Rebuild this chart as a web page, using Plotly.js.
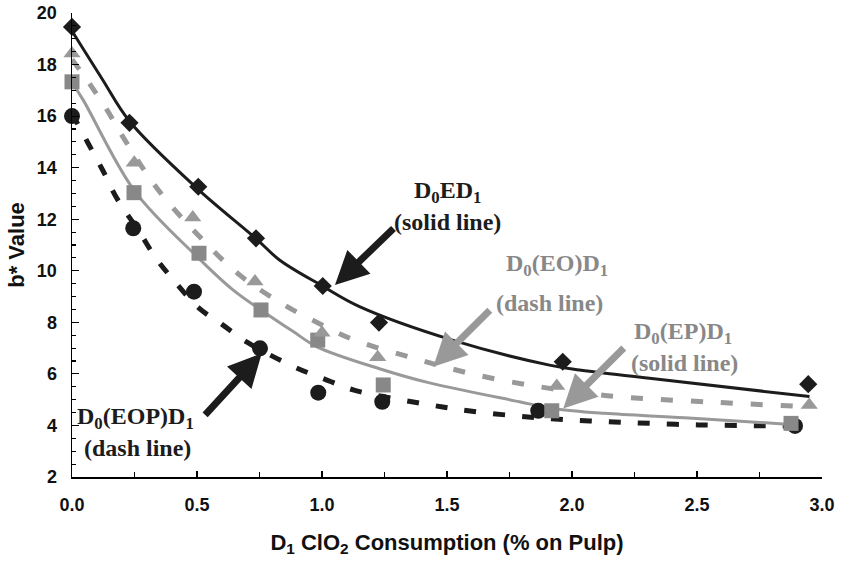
<!DOCTYPE html>
<html>
<head>
<meta charset="utf-8">
<script src="https://cdn.plot.ly/plotly-3.0.1.min.js"></script>
<style>html,body{margin:0;padding:0;background:#fff;}#chart{width:842px;height:564px;}</style>
</head>
<body>
<div id="chart"></div>
<script>
// Measured points
const edX   = [0, 0.23, 0.505, 0.736, 1.003, 1.228, 1.963, 2.945];
const edY   = [19.46, 15.74, 13.26, 11.26, 9.41, 7.99, 6.47, 5.6];
const eoX   = [0, 0.249, 0.483, 0.732, 1.0, 1.223, 1.939, 2.949];
const eoY   = [18.43, 14.19, 12.07, 9.58, 7.6, 6.65, 5.53, 4.79];
const epX   = [0, 0.248, 0.508, 0.756, 0.983, 1.245, 1.919, 2.876];
const epY   = [17.33, 13.03, 10.68, 8.48, 7.31, 5.57, 4.57, 4.08];
const eopX  = [0, 0.245, 0.488, 0.752, 0.985, 1.241, 1.865, 2.892];
const eopY  = [16.0, 11.65, 9.19, 6.99, 5.27, 4.92, 4.57, 3.98];

// Fitted curves
const edFitX  = [0, 0.12, 0.23, 0.5, 0.736, 0.83, 1.0, 1.15, 1.525, 1.91, 2.03, 2.31, 2.95];
const edFitY  = [19.3, 17.45, 15.8, 13.2, 11.25, 10.42, 9.42, 8.61, 7.3, 6.34, 6.15, 5.83, 5.12];
const eoFitX  = [0, 0.065, 0.14, 0.2, 0.34, 0.5, 0.67, 0.85, 1.0, 1.13, 1.37, 1.6, 1.85, 2.08, 2.2, 2.57, 2.95];
const eoFitY  = [18.2, 17.33, 16.24, 15.25, 13.2, 11.43, 9.84, 8.67, 7.9, 7.31, 6.6, 6.0, 5.53, 5.22, 5.1, 4.9, 4.72];
const epFitX  = [0, 0.045, 0.25, 0.5, 0.645, 0.756, 0.885, 0.98, 1.23, 1.43, 1.79, 1.93, 2.13, 2.45, 2.86];
const epFitY  = [17.3, 16.62, 13.1, 10.55, 9.25, 8.48, 7.64, 7.05, 6.2, 5.65, 4.92, 4.65, 4.47, 4.3, 4.05];
const eopFitX = [0, 0.065, 0.125, 0.18, 0.27, 0.335, 0.414, 0.508, 0.6, 0.7, 0.887, 1.005, 1.128, 1.383, 1.6, 1.885, 2.012, 2.132, 2.26, 2.505, 2.74, 2.89];
const eopFitY = [16.1, 14.94, 13.86, 12.8, 11.5, 10.5, 9.55, 8.55, 7.92, 7.23, 6.28, 5.82, 5.37, 4.88, 4.55, 4.28, 4.2, 4.15, 4.1, 4.02, 3.99, 3.97];

const xTickVals = [0, 0.5, 1, 1.5, 2, 2.5, 3];
const xTickText = ['0.0', '0.5', '1.0', '1.5', '2.0', '2.5', '3.0'];
const yTickVals = [2, 4, 6, 8, 10, 12, 14, 16, 18, 20];

const BLACK = '#1c1c1c', GRAY = '#888888', GRAYL = '#999999';

function fit(x, y, color, dash, width) {
  return {x: x, y: y, mode: 'lines', type: 'scatter', hoverinfo: 'skip', showlegend: false,
    line: {color: color, width: width, dash: dash, shape: 'spline', smoothing: 1}, cliponaxis: false};
}
function pts(x, y, sym, size, color) {
  return {x: x, y: y, mode: 'markers', type: 'scatter', showlegend: false, cliponaxis: false,
    marker: {symbol: sym, size: size, color: color, line: {width: 0}}};
}

const data = [
  fit(eopFitX, eopFitY, BLACK, '12px,17px', 5),
  fit(epFitX, epFitY, GRAYL, 'solid', 3),
  fit(eoFitX, eoFitY, GRAYL, '12px,18px', 5),
  fit(edFitX, edFitY, BLACK, 'solid', 3),
  pts(eopX, eopY, 'circle', 16, BLACK),
  pts(epX, epY, 'square', 15, GRAY),
  pts(eoX, eoY, 'triangle-up', 15, GRAYL),
  pts(edX, edY, 'diamond', 14, BLACK)
];

const tfont = {family: 'Liberation Serif, Times New Roman, serif', size: 24, weight: 'bold'};
function txt(x, y, t, color) {
  return {x: x, y: y, xref: 'x', yref: 'y', text: t, showarrow: false,
    font: Object.assign({}, tfont, {color: color}), xanchor: 'center', yanchor: 'middle'};
}
function arr(x, y, ax, ay, color) {
  return {x: x, y: y, xref: 'x', yref: 'y', text: '', showarrow: true, ax: ax, ay: ay,
    arrowcolor: color, arrowwidth: 7, arrowhead: 2, arrowsize: 0.95, standoff: 0};
}

const layout = {
  width: 842, height: 564,
  margin: {l: 72, r: 20, t: 13, b: 87},
  paper_bgcolor: '#fff', plot_bgcolor: '#fff',
  showlegend: false,
  xaxis: {
    range: [0, 3], tickvals: xTickVals, ticktext: xTickText,
    ticks: 'inside', ticklen: 6, tickwidth: 1.2, tickcolor: '#000',
    minor: {dtick: 0.25, tick0: 0, ticks: 'inside', ticklen: 5, tickcolor: '#000'},
    showline: true, linecolor: '#000', linewidth: 1.5, showgrid: false, zeroline: false,
    tickfont: {family: 'Arial, Liberation Sans, sans-serif', size: 18, weight: 'bold', color: '#111'},
    ticklabelstandoff: 11,
    title: {text: 'D<sub>1</sub> ClO<sub>2</sub> Consumption (% on Pulp)', standoff: 20,
      font: {family: 'Arial, Liberation Sans, sans-serif', size: 22, weight: 'bold', color: '#111'}}
  },
  yaxis: {
    range: [2, 20], tickvals: yTickVals,
    ticks: 'inside', ticklen: 7, tickwidth: 1.2, tickcolor: '#000',
    minor: {dtick: 0.5, tick0: 0, ticks: 'inside', ticklen: 4, tickcolor: '#000'},
    showline: true, linecolor: '#000', linewidth: 1.5, showgrid: false, zeroline: false,
    tickfont: {family: 'Arial, Liberation Sans, sans-serif', size: 18, weight: 'bold', color: '#111'},
    ticklabelstandoff: 10,
    title: {text: 'b* Value', standoff: 6,
      font: {family: 'Arial, Liberation Sans, sans-serif', size: 22, weight: 'bold', color: '#111'}}
  },
  annotations: [
    txt(1.50, 13.07, 'D<sub>0</sub>ED<sub>1</sub>', BLACK),
    txt(1.50, 11.9, '(solid line)', BLACK),
    arr(1.052, 9.45, 60, -58, BLACK),
    txt(1.94, 10.22, 'D<sub>0</sub>(EO)D<sub>1</sub>', GRAY),
    txt(1.91, 8.74, '(dash line)', GRAY),
    arr(1.445, 6.28, 58, -58, GRAYL),
    txt(2.444, 7.59, 'D<sub>0</sub>(EP)D<sub>1</sub>', GRAY),
    txt(2.45, 6.41, '(solid line)', GRAY),
    arr(1.965, 4.66, 62, -62, GRAYL),
    txt(0.252, 4.28, 'D<sub>0</sub>(EOP)D<sub>1</sub>', BLACK),
    txt(0.262, 3.11, '(dash line)', BLACK),
    arr(0.759, 6.8, -58, 63, BLACK)
  ]
};

Plotly.newPlot('chart', data, layout, {displayModeBar: false, staticPlot: true});
</script>
</body>
</html>
